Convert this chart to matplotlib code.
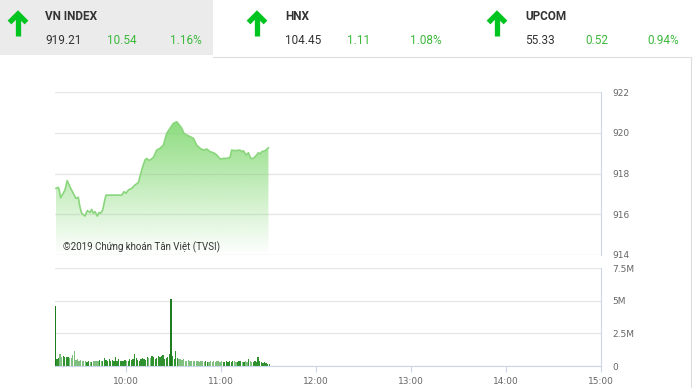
import numpy as np
import matplotlib
matplotlib.use("Agg")
import matplotlib.pyplot as plt
from matplotlib.lines import Line2D
from matplotlib.patches import Rectangle, Polygon
from matplotlib.colors import to_rgb

W, H = 693, 388

# ---------------- data ----------------
index_names = ["VN INDEX", "HNX", "UPCOM"]
index_values = ["919.21", "104.45", "55.33"]
index_changes = ["10.54", "1.11", "0.52"]
index_pcts = ["1.16%", "1.08%", "0.94%"]

# minutes after 9:00
price_minutes = [15.8, 17.3, 17.9, 18.7, 20.4, 21.5, 22.9, 24.6, 26.7, 28.4, 29.9, 30.9,
                 32.0, 34.1, 35.6, 37.3, 38.3, 39.4, 40.4, 41.9, 42.9, 44.0, 45.3, 46.7,
                 47.4, 49.9, 53.1, 57.3, 58.7, 60.0, 61.5, 63.6, 65.7, 67.8, 68.8, 70.5,
                 72.0, 73.1, 74.1, 75.2, 77.3, 79.4, 81.5, 83.6, 85.7, 87.8, 89.9, 92.0,
                 93.7, 95.2, 96.6, 98.3, 100.4, 102.5, 104.6, 106.7, 108.8, 111.0, 113.1,
                 115.2, 117.3, 119.4, 121.5, 123.6, 125.7, 126.7, 128.8, 132.0, 133.1,
                 134.1, 135.8, 137.3, 138.7, 140.4, 142.5, 143.6, 144.6, 145.7, 147.8, 149.9]
price_values = [917.27, 917.32, 917.19, 916.81, 917.03, 917.19, 917.65, 917.35, 917.03,
                916.78, 916.83, 916.37, 916.05, 915.91, 916.18, 916.08, 916.24, 916.05,
                916.13, 915.91, 916.08, 916.05, 916.21, 916.73, 916.94, 916.94, 916.94,
                916.94, 917.11, 917.03, 917.19, 917.27, 917.44, 917.55, 917.84, 918.33,
                918.66, 918.74, 918.66, 918.66, 918.79, 919.15, 919.24, 919.40, 919.97,
                920.22, 920.46, 920.54, 920.38, 920.22, 919.97, 919.89, 919.81, 919.73,
                919.40, 919.24, 919.15, 919.20, 919.07, 919.02, 918.91, 918.71, 918.74,
                918.74, 918.79, 919.15, 919.12, 919.15, 919.07, 919.12, 918.91, 919.02,
                918.74, 918.74, 918.91, 919.02, 918.96, 919.07, 919.12, 919.26]

volume_first_minute = 15
volumes_m = [4.6, 0.55, 0.65, 0.9, 0.7, 0.75, 0.72, 0.68, 0.7, 0.62, 0.65, 0.85, 1.15, 0.45, 0.5,
             0.4, 0.45, 0.38, 0.42, 0.35, 0.3, 0.4, 0.32, 0.3, 0.38, 0.42, 0.35, 0.4, 0.45, 0.38,
             0.42, 0.6, 0.45, 0.4, 0.5, 0.38, 0.45, 0.35, 0.7, 0.4, 0.55, 0.35, 0.4, 0.38, 0.45,
             0.35, 0.42, 0.5, 0.45, 0.55, 0.92, 0.6, 0.45, 0.4, 0.55, 0.62, 0.5, 0.45, 0.7, 0.65,
             0.6, 0.75, 0.7, 0.5, 0.65, 0.8, 0.72, 0.75, 0.85, 0.55, 0.6, 0.7, 0.95, 5.1, 0.8,
             0.55, 1.15, 0.6, 0.5, 0.55, 0.45, 0.5, 0.42, 0.38, 0.45, 0.4, 0.35, 0.42, 0.38, 0.35,
             0.4, 0.3, 0.35, 0.38, 0.3, 0.35, 0.28, 0.32, 0.4, 0.3, 0.35, 0.3, 0.38, 0.42, 0.3,
             0.35, 0.3, 0.28, 0.4, 0.32, 0.35, 0.3, 0.38, 0.35, 0.3, 0.28, 0.35, 0.4, 0.3, 0.32,
             0.38, 0.3, 0.55, 0.35, 0.3, 0.28, 0.35, 0.32, 0.67, 0.4, 0.3, 0.25, 0.28, 0.2, 0.15, 0.12]

time_ticks = [60, 120, 180, 240, 300, 360]
time_labels = ["10:00", "11:00", "12:00", "13:00", "14:00", "15:00"]
price_ticks = [914, 916, 918, 920, 922]
volume_ticks = [0, 2.5, 5, 7.5]
volume_labels = ["0", "2.5M", "5M", "7.5M"]

# ---------------- figure ----------------
fig = plt.figure(figsize=(W / 100, H / 100), dpi=100)
fig.patch.set_facecolor("white")


def fx(x):
    return x / W


def fy(y):
    return 1 - y / H


# header
fig.add_artist(Rectangle((0, fy(55)), fx(213), 55 / H, transform=fig.transFigure,
                         facecolor="#ebebeb", edgecolor="none", zorder=0))
fig.add_artist(Line2D([fx(213), fx(691)], [fy(56.5), fy(56.5)], color="#dddddd", lw=0.8))
fig.add_artist(Line2D([fx(691), fx(691)], [fy(56.5), 0], color="#dddddd", lw=0.8))

hdr_font = ["Liberation Sans Narrow", "Roboto", "DejaVu Sans"]
arrow_x = [18, 257, 497]
text_x = [45, 285, 525]
chg_x = [107, 347, 585]
pct_x = [170, 410, 647]
green = "#00c41f"
for i in range(3):
    ax0 = arrow_x[i]
    fig.add_artist(Line2D([fx(ax0), fx(ax0)], [fy(36), fy(16)], color=green, lw=3.8,
                          solid_capstyle="butt"))
    fig.add_artist(Line2D([fx(ax0 - 8.5), fx(ax0), fx(ax0 + 8.5)], [fy(22.5), fy(14), fy(22.5)],
                          color=green, lw=3.8, solid_capstyle="butt", solid_joinstyle="miter"))
    fig.text(fx(text_x[i]), fy(17), index_names[i], fontsize=8.5, fontweight="bold",
             color="#333333", va="center", ha="left", family=hdr_font)
    fig.text(fx(text_x[i]), fy(41), index_values[i], fontsize=8.5,
             color="#333333", va="center", ha="left", family=hdr_font)
    fig.text(fx(chg_x[i]), fy(41), index_changes[i], fontsize=8.5,
             color="#3cb83c", va="center", ha="left", family=hdr_font)
    fig.text(fx(pct_x[i]), fy(41), index_pcts[i], fontsize=8.5,
             color="#3cb83c", va="center", ha="left", family=hdr_font)

# axes positions
x_left = 54.7
x_right = 601.3
ax1 = fig.add_axes([fx(x_left), fy(255), (x_right - x_left) / W, 163 / H])
ax2 = fig.add_axes([fx(x_left), fy(366), (x_right - x_left) / W, 98 / H])

grid_c = "#e6e6e6"
axis_c = "#ccd6eb"
lab_c = "#666666"

# price panel
px = np.array(price_minutes)
py = np.array(price_values)
verts = [(px[0], 914)] + list(zip(px, py)) + [(px[-1], 914)]
poly = Polygon(verts, closed=True, facecolor="none", edgecolor="none")
ax1.add_patch(poly)
n = 256
rgba = np.zeros((n, 1, 4))
rgba[..., :3] = to_rgb("#7fd86f")
rgba[:, 0, 3] = np.linspace(0.95, 0.0, n)
im = ax1.imshow(rgba, extent=[px[0], px[-1], 914, 921], origin="upper", aspect="auto",
                zorder=1, interpolation="bilinear")
im.set_clip_path(poly)
ax1.plot(px, py, color="#8ad67d", lw=1.2, zorder=2)
ax1.set_xlim(15, 360)
ax1.set_ylim(914, 922)
ax1.set_yticks(price_ticks)
ax1.set_yticklabels([str(t) for t in price_ticks])
ax1.yaxis.tick_right()
ax1.tick_params(axis="y", length=0, pad=8, labelsize=6.5, labelcolor=lab_c)
ax1.set_xticks([])
ax1.grid(axis="y", color=grid_c, lw=1)
ax1.set_axisbelow(True)
for s in ["left", "top", "bottom"]:
    ax1.spines[s].set_visible(False)
ax1.spines["right"].set_color(axis_c)
fig.text(fx(63), fy(247), "©2019 Chứng khoán Tân Việt (TVSI)", fontsize=7, color="#333333",
         va="center", ha="left", family=["Roboto", "DejaVu Sans"])

# volume panel
vm = np.arange(volume_first_minute, volume_first_minute + len(volumes_m))
pi = np.interp(vm, px, py)
up = np.diff(np.concatenate([[pi[0]], pi])) >= 0
bar_colors = ["#2f922f" if u else "#7fbf7f" for u in up]
bar_colors = [("#1e7d1e" if v > 3 else c) for v, c in zip(volumes_m, bar_colors)]
ax2.bar(vm, volumes_m, width=0.8, color=bar_colors, zorder=2, align="edge")
ax2.set_xlim(15, 360)
ax2.set_ylim(0, 7.5)
ax2.set_yticks(volume_ticks)
ax2.set_yticklabels(volume_labels)
ax2.yaxis.tick_right()
ax2.tick_params(axis="y", length=0, pad=8, labelsize=6.5, labelcolor=lab_c)
ax2.set_xticks(time_ticks)
ax2.set_xticklabels(time_labels)
ax2.tick_params(axis="x", length=4, color=axis_c, pad=4, labelsize=6.5, labelcolor=lab_c)
ax2.grid(axis="y", color=grid_c, lw=1)
ax2.set_axisbelow(True)
for s in ["left", "top"]:
    ax2.spines[s].set_visible(False)
ax2.spines["right"].set_color(axis_c)
ax2.spines["bottom"].set_color(axis_c)

fig.savefig("out.png", dpi=100, facecolor="white")
